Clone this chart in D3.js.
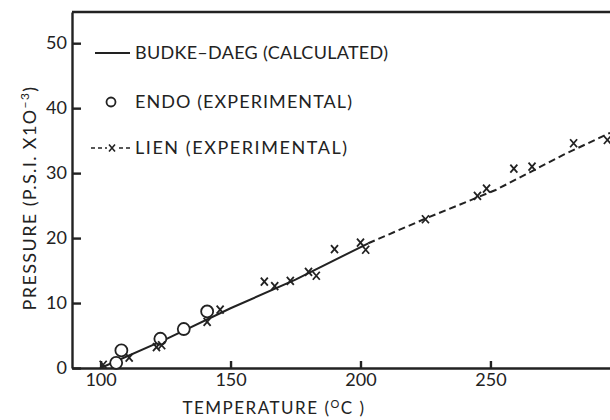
<!DOCTYPE html>
<html>
<head>
<meta charset="utf-8">
<script src="https://cdn.jsdelivr.net/npm/d3@7"></script>
<style>
  body { margin: 0; background: #fff; }
  svg { display: block; font-family: Lato, "Open Sans", sans-serif; }
</style>
</head>
<body>
<script>
// calculated curve (solid) and Lien fit (dashed)
const budkeTemp = [100, 125, 150, 175, 203];
const budkePress = [0, 4.4, 9.2, 13.6, 19.2];
const lienLineTemp = [203, 225, 252, 278, 296];
const lienLinePress = [19.2, 23.0, 27.4, 32.8, 36.2];

// Endo experimental (open circles)
const endoTemp = [106, 108, 123, 132, 141];
const endoPress = [0.8, 2.7, 4.5, 6.0, 8.7];

// Lien experimental (x marks)
const lienTemp = [101, 111, 121.5, 123.5, 141, 146, 163, 167, 173, 180, 183, 190, 200, 202, 225, 245, 248.5, 259, 266, 282, 295];
const lienPress = [0.5, 1.6, 3.2, 3.5, 7.1, 9.0, 13.3, 12.6, 13.4, 14.8, 14.2, 18.3, 19.3, 18.2, 22.9, 26.5, 27.6, 30.7, 31.0, 34.6, 35.1];

const xTicks = [100, 150, 200, 250];
const yTicks = [0, 10, 20, 30, 40, 50];
const legendLabels = ["BUDKE\u2013DAEG (CALCULATED)", "ENDO (EXPERIMENTAL)", "LIEN (EXPERIMENTAL)"];

const width = 610;
const height = 420;
const margin = { top: 12, right: 0, bottom: 52, left: 72 };
const ink = "#222";

const svg = d3
  .select("body")
  .append("svg")
  .attr("width", width)
  .attr("height", height);

const x = d3.scaleLinear().domain([89, 296]).range([margin.left, width - margin.right]);
const y = d3.scaleLinear().domain([0, 54.8]).range([height - margin.bottom, margin.top]);

// axes
const xAxis = svg
  .append("g")
  .attr("transform", "translate(0," + y(0) + ")")
  .call(d3.axisBottom(x).tickValues(xTicks).tickSizeInner(-7).tickSizeOuter(0).tickPadding(5));

const yAxis = svg
  .append("g")
  .attr("transform", "translate(" + x(89) + ",0)")
  .call(d3.axisLeft(y).tickValues(yTicks).tickSizeInner(-9).tickSizeOuter(0).tickPadding(5));

[xAxis, yAxis].forEach(function (g) {
  g.selectAll("path, line").attr("stroke", ink).attr("stroke-width", 2.4);
  g.selectAll("text")
    .attr("fill", ink)
    .style("font-size", "18px")
    .style("font-family", "Lato, sans-serif");
});

// top border of the frame
svg
  .append("line")
  .attr("x1", x(89))
  .attr("x2", x(296))
  .attr("y1", y(54.8))
  .attr("y2", y(54.8))
  .attr("stroke", ink)
  .attr("stroke-width", 2.4);

const line = d3
  .line()
  .x((d) => x(d[0]))
  .y((d) => y(d[1]));

svg
  .append("path")
  .datum(d3.zip(budkeTemp, budkePress))
  .attr("d", line)
  .attr("fill", "none")
  .attr("stroke", ink)
  .attr("stroke-width", 2);

svg
  .append("path")
  .datum(d3.zip(lienLineTemp, lienLinePress))
  .attr("d", line)
  .attr("fill", "none")
  .attr("stroke", ink)
  .attr("stroke-width", 2)
  .attr("stroke-dasharray", "7,4");

const crossPath = "M-3.5,-4L3.5,4M3.5,-4L-3.5,4";

svg
  .selectAll(".endo")
  .data(d3.zip(endoTemp, endoPress))
  .enter()
  .append("circle")
  .attr("class", "endo")
  .attr("cx", (d) => x(d[0]))
  .attr("cy", (d) => y(d[1]))
  .attr("r", 6)
  .attr("fill", "#fff")
  .attr("stroke", ink)
  .attr("stroke-width", 1.8);

svg
  .selectAll(".lien")
  .data(d3.zip(lienTemp, lienPress))
  .enter()
  .append("path")
  .attr("class", "lien")
  .attr("transform", (d) => "translate(" + x(d[0]) + "," + y(d[1]) + ")")
  .attr("d", crossPath)
  .attr("fill", "none")
  .attr("stroke", ink)
  .attr("stroke-width", 1.8);

// legend
const legend = svg.append("g");
const rowY = [53, 102, 148];

legend
  .append("line")
  .attr("x1", 95)
  .attr("x2", 130)
  .attr("y1", rowY[0])
  .attr("y2", rowY[0])
  .attr("stroke", ink)
  .attr("stroke-width", 2);

legend
  .append("circle")
  .attr("cx", 111)
  .attr("cy", rowY[1])
  .attr("r", 4.5)
  .attr("fill", "#fff")
  .attr("stroke", ink)
  .attr("stroke-width", 1.8);

legend
  .append("line")
  .attr("x1", 91)
  .attr("x2", 132)
  .attr("y1", rowY[2])
  .attr("y2", rowY[2])
  .attr("stroke", ink)
  .attr("stroke-width", 1.6)
  .attr("stroke-dasharray", "4,3");

legend
  .append("rect")
  .attr("x", 107)
  .attr("y", rowY[2] - 5)
  .attr("width", 10)
  .attr("height", 10)
  .attr("fill", "#fff");

legend
  .append("path")
  .attr("transform", "translate(112," + rowY[2] + ")")
  .attr("d", "M-3,-3.5L3,3.5M3,-3.5L-3,3.5")
  .attr("fill", "none")
  .attr("stroke", ink)
  .attr("stroke-width", 1.6);

const legendWidths = [253, 217, 212];

legend
  .selectAll("text")
  .data(legendLabels)
  .enter()
  .append("text")
  .attr("x", 135)
  .attr("y", (d, i) => rowY[i])
  .attr("dy", "0.36em")
  .attr("textLength", (d, i) => legendWidths[i])
  .attr("lengthAdjust", "spacing")
  .attr("fill", ink)
  .style("font-size", "18px")
  .text((d) => d);

// axis titles
const xTitle = svg
  .append("text")
  .attr("x", 274)
  .attr("y", 414)
  .attr("text-anchor", "middle")
  .attr("fill", ink)
  .style("font-size", "17px")
  .style("letter-spacing", "1.5px");
xTitle.append("tspan").text("TEMPERATURE (");
xTitle.append("tspan").attr("dy", -6).style("font-size", "11px").text("O");
xTitle.append("tspan").attr("dy", 6).text("C )");

const yTitle = svg
  .append("text")
  .attr("transform", "translate(36,198) rotate(-90)")
  .attr("text-anchor", "middle")
  .attr("fill", ink)
  .style("font-size", "18px")
  .style("letter-spacing", "1.4px");
yTitle.append("tspan").text("PRESSURE (P.S.I. X1O");
yTitle.append("tspan").attr("dy", -7).style("font-size", "12px").text("\u22123");
yTitle.append("tspan").attr("dy", 7).text(")");
</script>
</body>
</html>
